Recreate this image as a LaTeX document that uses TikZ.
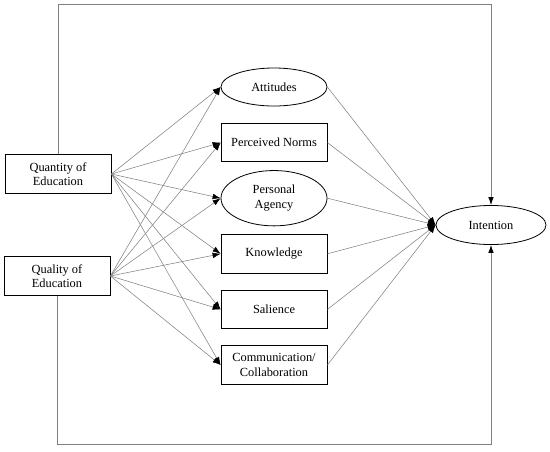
\documentclass[tikz,border=0pt]{standalone}
\usepackage{fontspec}
\setmainfont{Liberation Serif}
\usetikzlibrary{shapes.geometric, arrows.meta, positioning}

\begin{document}
\begin{tikzpicture}[
        x=0.75pt, y=-0.75pt,
        node distance=41.7pt, on grid,
        font=\fontsize{9.3}{10.8}\selectfont,
        factor/.style={rectangle, draw=black, line width=0.6pt, minimum width=79.5pt, minimum height=28.8pt, align=center, inner sep=1pt},
        latent/.style={ellipse, draw=black, line width=0.6pt, minimum width=79.5pt, minimum height=28.5pt, align=center, inner sep=1pt},
        link/.style={-{Latex[length=6pt, width=4.2pt, color=black]}, draw=black!50, line width=0.4pt},
        frame/.style={link, draw=black!50, line width=0.6pt}
    ]
    \useasboundingbox (0,0) rectangle (550,451);
    \node[factor] (qty) at (58,174) {Quantity of\\Education};
    \node[factor] (qual) at (57,276) {Quality of\\Education};
    \node[latent] (att) at (274,87) {Attitudes};
    \node[factor, below=of att] (norms) {Perceived Norms};
    \node[latent, minimum height=41.5pt, below=of norms] (agency) {Personal\\Agency};
    \node[factor, below=of agency] (know) {Knowledge};
    \node[factor, below=of know] (sal) {Salience};
    \node[factor, below=of sal] (comm) {Communication/\\Collaboration};
    \node[latent, minimum width=82.5pt, minimum height=29.3pt] (int) at (491,225) {Intention};
    \foreach \m in {att, norms, agency, know, sal, comm} {
        \draw[link] (qty.east) -- (\m.west);
        \draw[link] (qual.east) -- (\m.west);
        \draw[link] (\m.east) -- (int.west);
    }
    \draw[frame] (qty.north) -- (qty.north |- 0,4) -| (int.north);
    \draw[frame] (qual.south) -- (qual.south |- 0,444) -| (int.south);
\end{tikzpicture}
\end{document}
